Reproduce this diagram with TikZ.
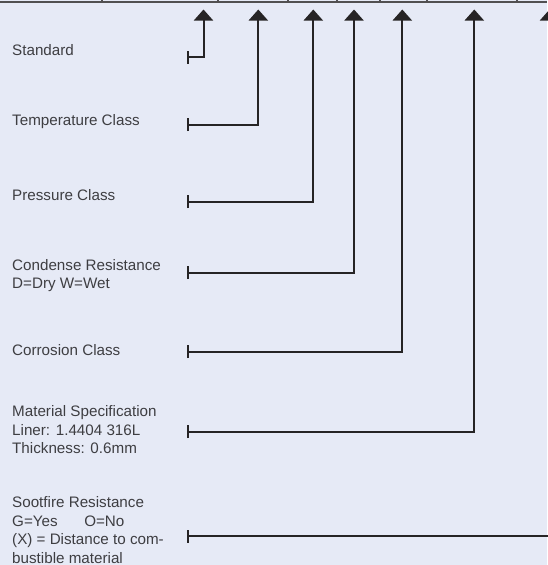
\documentclass[tikz,border=0pt]{standalone}
\usepackage{fontspec}
\setmainfont{Liberation Sans}
\usetikzlibrary{arrows.meta}
\definecolor{bg}{HTML}{E6EAF6}
\definecolor{ink}{HTML}{262425}
\definecolor{txt}{HTML}{3E3E42}
\tikzset{
  lbl/.style={anchor=base west, inner sep=0pt, align=left, text=txt,
    font=\fontsize{15.2}{18.5}\selectfont},
  conn/.style={draw=ink, line width=2pt,
    {Bar[width=13pt,line width=2pt]}-{Triangle[width=19pt,length=11pt]}},
  topline/.style={draw=ink!80, line width=2pt}
}
\begin{document}
\begin{tikzpicture}[x=1pt,y=-1pt]
\fill[bg] (0,0) rectangle (547,565);
\useasboundingbox (0,0) rectangle (547,565);
% top edge of the code boxes
\coordinate (tl) at (0,2);
\coordinate (tr) at (547,2);
\draw[topline] (tl) -- (tr);
\foreach \x in {102,218,288,337,380,427,517}
  \draw[topline, line width=1.5pt] (\x,0) -- (\x,2);
% labels (anchor = baseline of the last line)
\node[lbl] (l1) at (12,55) {Standard};
\node[lbl] (l2) at (12,125) {Temperature Class};
\node[lbl] (l3) at (12,200) {Pressure Class};
\node[lbl] (l4) at (12,288.5) {Condense Resistance\\D=Dry W=Wet};
\node[lbl] (l5) at (12,355) {Corrosion Class};
\node[lbl] (l6) at (12,453.5) {Material Specification\\Liner: 1.4404 316L\\Thickness: 0.6mm};
\node[lbl] (l7) at (12,563) {Sootfire Resistance\\G=Yes\hspace{1.75em}O=No\\(X) = Distance to com-\\bustible material};
% connector ends
\coordinate (t1) at (187,57.3);
\coordinate (t2) at (187,124.5);
\coordinate (t3) at (187,201.5);
\coordinate (t4) at (187,272.5);
\coordinate (t5) at (187,351.5);
\coordinate (t6) at (187,431.5);
\coordinate (t7) at (187,536);
\coordinate (a1) at (203.5,9.5);
\coordinate (a2) at (258.3,9.5);
\coordinate (a3) at (313.3,9.5);
\coordinate (a4) at (354,9.5);
\coordinate (a5) at (402.3,9.5);
\coordinate (a6) at (474.3,9.5);
\coordinate (a7) at (549.5,9.5);
\foreach \i in {1,...,7}
  \draw[conn] (t\i) -| (a\i);
\end{tikzpicture}
\end{document}
